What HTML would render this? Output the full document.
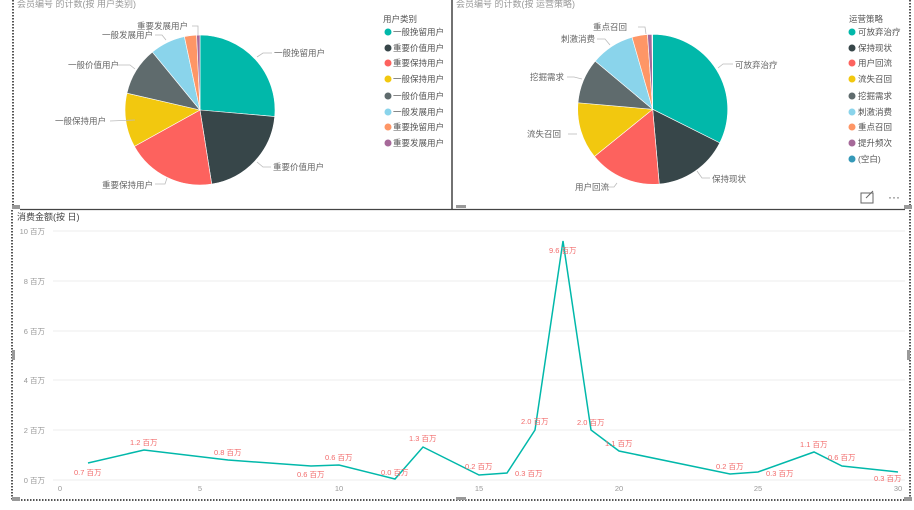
<!DOCTYPE html>
<html><head><meta charset="utf-8"><style>
body{margin:0;background:#fff;width:914px;height:505px;overflow:hidden;font-family:"Liberation Sans","Noto Sans CJK SC",sans-serif;}
svg text{font-family:"Liberation Sans","Noto Sans CJK SC",sans-serif;}
</style></head><body>
<svg width="914" height="505" xmlns="http://www.w3.org/2000/svg">
<!-- borders -->
<line x1="13" y1="0" x2="13" y2="210" stroke="#555" stroke-width="2" stroke-dasharray="1.5,1.5"/>
<line x1="452" y1="0" x2="452" y2="209" stroke="#444" stroke-width="1.5"/>
<line x1="20" y1="209.5" x2="905" y2="209.5" stroke="#444" stroke-width="1.2"/>
<line x1="910" y1="0" x2="910" y2="500" stroke="#555" stroke-width="2" stroke-dasharray="1.5,1.5"/>
<line x1="12" y1="210" x2="12" y2="500" stroke="#555" stroke-width="2" stroke-dasharray="1.5,1.5"/>
<line x1="12" y1="500" x2="910" y2="500" stroke="#555" stroke-width="2" stroke-dasharray="1.5,1.5"/>
<rect x="12" y="205" width="8" height="4" fill="#999"/><rect x="12" y="497" width="8" height="4" fill="#999"/>
<rect x="904" y="205" width="8" height="4" fill="#999"/><rect x="904" y="497" width="8" height="4" fill="#999"/>
<rect x="12" y="350" width="3" height="10" fill="#999"/><rect x="907" y="350" width="3" height="10" fill="#999"/>
<rect x="456" y="205" width="10" height="3" fill="#999"/><rect x="456" y="497" width="10" height="3" fill="#999"/>

<text x="17" y="7" font-size="9" fill="#999">会员编号 的计数(按 用户类别)</text>
<text x="456" y="7" font-size="9" fill="#999">会员编号 的计数(按 运营策略)</text>

<g id="pie1"></g><g id="pie2"></g>

<g font-size="8.5" fill="#666">
<text x="274" y="56">一般挽留用户</text>
<text x="273" y="170">重要价值用户</text>
<text x="102" y="188">重要保持用户</text>
<text x="55" y="124">一般保持用户</text>
<text x="68" y="68">一般价值用户</text>
<text x="102" y="38">一般发展用户</text>
<text x="137" y="29">重要发展用户</text>
<text x="735" y="68">可放弃治疗</text>
<text x="712" y="182">保持现状</text>
<text x="575" y="190">用户回流</text>
<text x="527" y="137">流失召回</text>
<text x="530" y="80">挖掘需求</text>
<text x="561" y="42">刺激消费</text>
<text x="593" y="30">重点召回</text>
</g>
<g stroke="#bbb" fill="none" stroke-width="0.8">
<polyline points="257,57 263,53 272,53"/><polyline points="257,162 263,167 271,167"/>
<polyline points="167,178 165,184 155,184"/><polyline points="135,120 110,121"/>
<polyline points="135,69 130,65 118,65"/><polyline points="166,40 162,35 155,35"/>
<polyline points="198,35 198,26 192,26"/>
<polyline points="718,68 723,64 733,64"/><polyline points="697,171 702,178 710,178"/>
<polyline points="617,183 614,187 603,187"/><polyline points="577,134 568,134"/>
<polyline points="582,79 574,77 567,77"/><polyline points="610,45 605,39 597,39"/>
<polyline points="646,34 645,27 638,27"/>
</g>

<g font-size="8.5" fill="#555">
<text x="383" y="22">用户类别</text>
<text x="849" y="22">运营策略</text>
</g>
<g id="leg1" font-size="8.5" fill="#555"></g>
<g id="leg2" font-size="8.5" fill="#555"></g>

<!-- expand icons -->
<rect x="861" y="193" width="12" height="10" fill="none" stroke="#666" stroke-width="1"/>
<line x1="866" y1="198" x2="873" y2="191" stroke="#666"/>
<text x="888" y="201" font-size="12" fill="#555">···</text>

<!-- line chart -->
<text x="17" y="220" font-size="9" fill="#444">消费金额(按 日)</text>
<g stroke="#eee" stroke-width="1">
<line x1="53" y1="231" x2="905" y2="231"/><line x1="53" y1="281" x2="905" y2="281"/>
<line x1="53" y1="331" x2="905" y2="331"/><line x1="53" y1="380" x2="905" y2="380"/>
<line x1="53" y1="430" x2="905" y2="430"/><line x1="53" y1="480" x2="905" y2="480"/>
</g>
<g font-size="7.5" fill="#999" text-anchor="end">
<text x="45" y="234">10 百万</text><text x="45" y="284">8 百万</text><text x="45" y="334">6 百万</text>
<text x="45" y="383">4 百万</text><text x="45" y="433">2 百万</text><text x="45" y="483">0 百万</text>
</g>
<g font-size="7.5" fill="#999" text-anchor="middle">
<text x="60" y="491">0</text><text x="200" y="491">5</text><text x="339" y="491">10</text>
<text x="479" y="491">15</text><text x="619" y="491">20</text><text x="758" y="491">25</text><text x="898" y="491">30</text>
</g>
<polyline fill="none" stroke="#01b8aa" stroke-width="1.5" points="88,463 144,450 228,460 311,466 339,465 395,479 423,447 479,475 507,473 535,430 563,241 591,430 619,451 730,474 758,472 814,452 842,466 898,472"/>
<g font-size="7.5" fill="#f26b6b">
<text x="74" y="475">0.7 百万</text><text x="130" y="445">1.2 百万</text><text x="214" y="455">0.8 百万</text>
<text x="297" y="477">0.6 百万</text><text x="325" y="460">0.6 百万</text><text x="381" y="475">0.0 百万</text>
<text x="409" y="441">1.3 百万</text><text x="465" y="469">0.2 百万</text><text x="515" y="476">0.3 百万</text>
<text x="521" y="424">2.0 百万</text><text x="549" y="253">9.6 百万</text><text x="577" y="425">2.0 百万</text>
<text x="605" y="446">1.1 百万</text><text x="716" y="469">0.2 百万</text><text x="766" y="476">0.3 百万</text>
<text x="800" y="447">1.1 百万</text><text x="828" y="460">0.6 百万</text><text x="874" y="481">0.3 百万</text>
</g>
</svg>
<script>
var NS="http://www.w3.org/2000/svg";
function pie(id,cx,cy,r,ends,cols){
  var g=document.getElementById(id),a0=0;
  for(var i=0;i<ends.length;i++){
    var a1=ends[i],t0=a0*Math.PI/180,t1=a1*Math.PI/180;
    var x0=cx+r*Math.sin(t0),y0=cy-r*Math.cos(t0),x1=cx+r*Math.sin(t1),y1=cy-r*Math.cos(t1);
    var p=document.createElementNS(NS,"path");
    p.setAttribute("d","M"+cx+","+cy+"L"+x0+","+y0+"A"+r+","+r+" 0 "+((a1-a0)>180?1:0)+" 1 "+x1+","+y1+"Z");
    p.setAttribute("fill",cols[i]);p.setAttribute("stroke","#fff");p.setAttribute("stroke-width","0.6");
    g.appendChild(p);a0=a1;
  }
}
var C=["#01b8aa","#374649","#fd625e","#f2c80f","#5f6b6d","#8ad4eb","#fe9666","#a66999","#3599b8"];
pie("pie1",200,110,75,[95,171,241,283,320.6,348,357.4,360],C);
pie("pie2",652.7,109.3,75,[116.6,175,231,275,310,344,356,359.5,360],C);
function leg(id,x,names){
  var g=document.getElementById(id),ys=[32,48,63,79,96,112,127,143,159];
  for(var i=0;i<names.length;i++){
    var c=document.createElementNS(NS,"circle");
    c.setAttribute("cx",x);c.setAttribute("cy",ys[i]);c.setAttribute("r",3.5);c.setAttribute("fill",C[i]);g.appendChild(c);
  }
}
leg("leg1",388,[1,1,1,1,1,1,1,1]);
leg("leg2",852,[1,1,1,1,1,1,1,1,1]);
</script>
<svg width="914" height="505" style="position:absolute;left:0;top:0" xmlns="http://www.w3.org/2000/svg">
<g font-size="8.5" fill="#555">
<text x="393" y="35">一般挽留用户</text><text x="393" y="51">重要价值用户</text><text x="393" y="66">重要保持用户</text>
<text x="393" y="82">一般保持用户</text><text x="393" y="99">一般价值用户</text><text x="393" y="115">一般发展用户</text>
<text x="393" y="130">重要挽留用户</text><text x="393" y="146">重要发展用户</text>
<text x="858" y="35">可放弃治疗</text><text x="858" y="51">保持现状</text><text x="858" y="66">用户回流</text>
<text x="858" y="82">流失召回</text><text x="858" y="99">挖掘需求</text><text x="858" y="115">刺激消费</text>
<text x="858" y="130">重点召回</text><text x="858" y="146">提升频次</text><text x="858" y="162">(空白)</text>
</g>
</svg>
</body></html>
